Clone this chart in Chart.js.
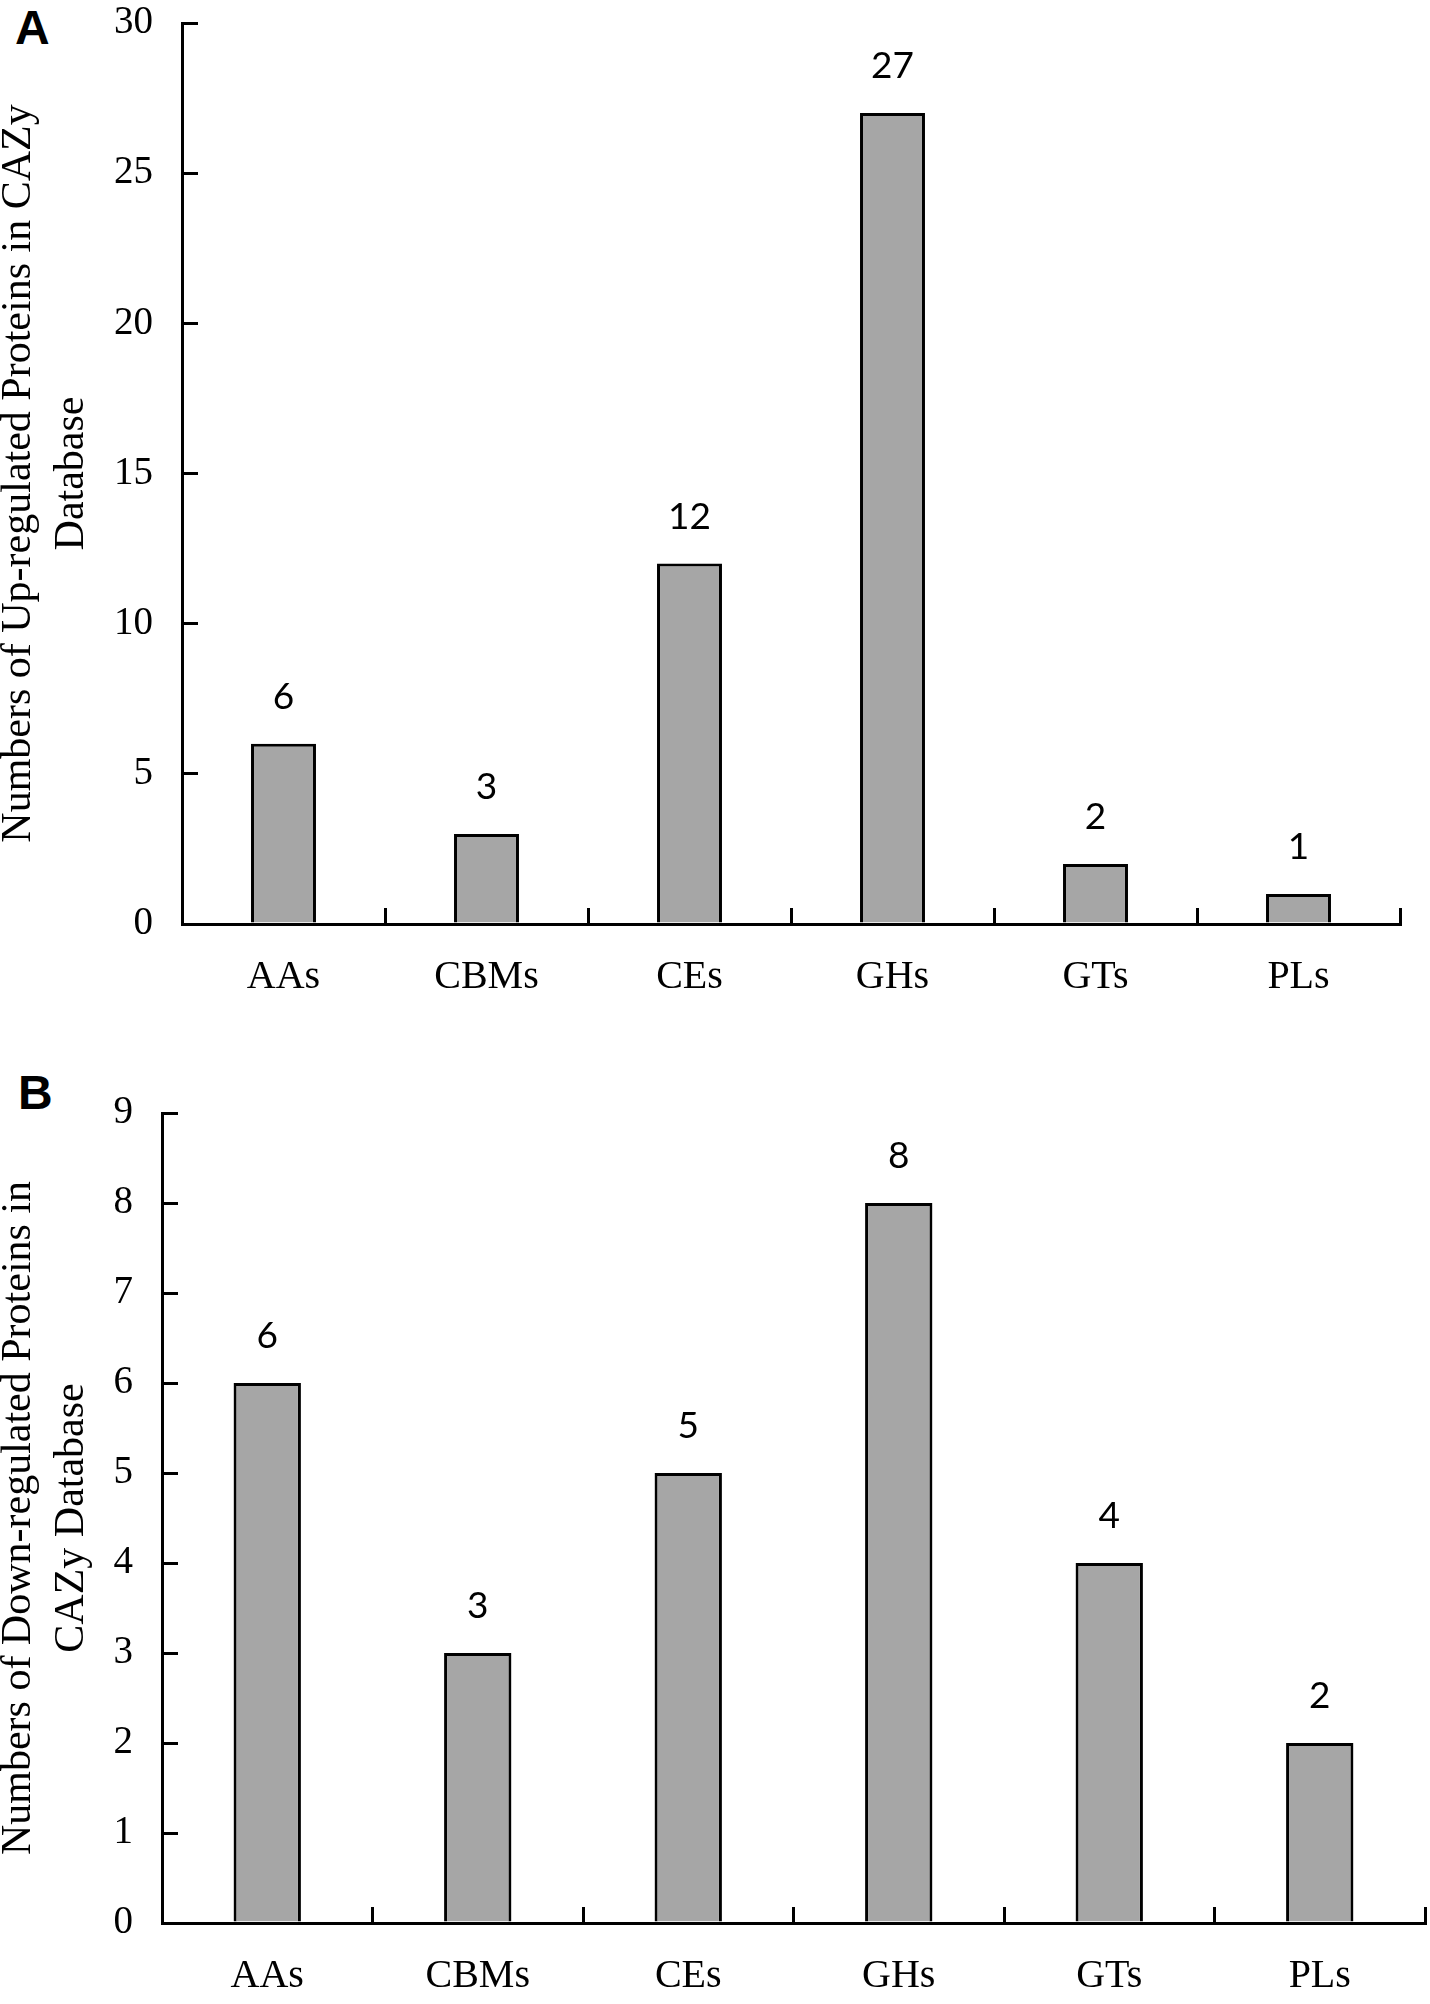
<!DOCTYPE html>
<html>
<head>
<meta charset="utf-8">
<script src="https://cdn.jsdelivr.net/npm/chart.js@4.4.1/dist/chart.umd.min.js"></script>
<style>
    body { margin: 0; background: #fff; width: 1430px; height: 2004px; position: relative; overflow: hidden; }
    canvas { position: absolute; left: 0; }
    #chartA { top: 0; }
    #chartB { top: 1020px; }
    .panel { position: absolute; font: bold 48px "Liberation Sans", Arial, sans-serif; line-height: 48px; color: #000; }
</style>
</head>
<body>
<div class="panel" style="left:15px; top:4px;">A</div>
<div class="panel" style="left:18px; top:1069px;">B</div>
<canvas id="chartA" width="1430" height="1020"></canvas>
<canvas id="chartB" width="1430" height="984"></canvas>
<script>
// Data
const categories = ["AAs", "CBMs", "CEs", "GHs", "GTs", "PLs"];
const upValues = [6, 3, 12, 27, 2, 1];
const downValues = [6, 3, 5, 8, 4, 2];

const upTitle = ["Numbers of Up-regulated Proteins in CAZy", "Database"];
const downTitle = ["Numbers of Down-regulated Proteins in", "CAZy Database"];

const serif = '"Liberation Serif", "Times New Roman", serif';

// Writes the value over each bar
const valueLabels = {
    id: "valueLabels",
    afterDatasetsDraw(chart) {
        const ctx = chart.ctx;
        const meta = chart.getDatasetMeta(0);
        ctx.save();
        ctx.font = '37px Lato, "Open Sans", sans-serif';
        ctx.fillStyle = "#000";
        ctx.textAlign = "center";
        ctx.textBaseline = "middle";
        meta.data.forEach((bar, i) => {
            ctx.fillText(chart.data.datasets[0].data[i], bar.x, bar.y - 47);
        });
        ctx.restore();
    }
};

function barChart(canvasId, values, yMax, step, title, axisWidth, axisHeight, padTop, padRight) {
    new Chart(document.getElementById(canvasId), {
        type: "bar",
        data: {
            labels: categories,
            datasets: [{
                data: values,
                backgroundColor: "#a6a6a6",
                borderColor: "#000",
                borderWidth: 3,
                categoryPercentage: 1.0,
                barPercentage: 0.32
            }]
        },
        options: {
            responsive: false,
            animation: false,
            layout: { padding: { top: padTop, right: padRight, left: 0, bottom: 0 } },
            plugins: {
                legend: { display: false },
                tooltip: { enabled: false }
            },
            scales: {
                x: {
                    grid: { drawOnChartArea: false, color: "#000", lineWidth: 3, tickLength: -16 },
                    border: { color: "#000", width: 3 },
                    ticks: { color: "#000", padding: 45, font: { family: serif, size: 40, lineHeight: 1.2 } },
                    afterFit(axis) {
                        axis.height = axisHeight;
                        axis.paddingLeft = 0;
                        axis.paddingRight = 0;
                    }
                },
                y: {
                    min: 0,
                    max: yMax,
                    ticks: { stepSize: step, color: "#000", padding: 45, font: { family: serif, size: 39, lineHeight: 1.0 } },
                    grid: { drawOnChartArea: false, color: "#000", lineWidth: 3, tickLength: -16 },
                    border: { color: "#000", width: 3 },
                    title: {
                        display: true,
                        text: title,
                        color: "#000",
                        padding: { top: -7, bottom: 0 },
                        font: { family: serif, size: 42, lineHeight: 1.25 }
                    },
                    afterFit(axis) {
                        axis.width = axisWidth;
                        axis.paddingTop = 0;
                        axis.paddingBottom = 0;
                    }
                }
            }
        },
        plugins: [valueLabels]
    });
}

barChart("chartA", upValues, 30, 5, upTitle, 182, 96, 23, 30);
barChart("chartB", downValues, 9, 1, downTitle, 162, 81, 93, 5);
</script>
</body>
</html>
